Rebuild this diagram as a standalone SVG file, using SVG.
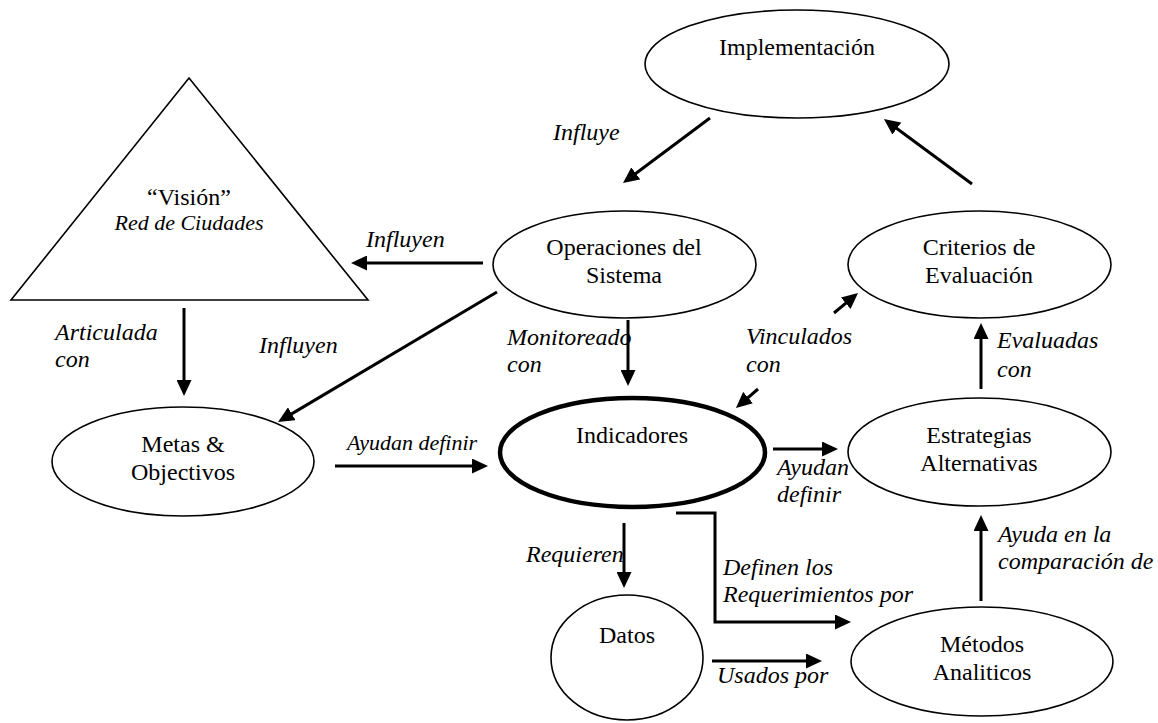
<svg xmlns="http://www.w3.org/2000/svg" width="1158" height="723" viewBox="0 0 1158 723" font-family="Liberation Serif, Times New Roman, serif">
<style>
  .node { fill: #ffffff; stroke: #000000; stroke-width: 1.6; }
  .thick { stroke-width: 4.5; }
  .t { font-size: 24px; fill: #000000; text-anchor: middle; }
  .lbl { font-size: 24px; font-style: italic; fill: #000000; }
  .edge { fill: none; stroke: #000000; stroke-width: 3; marker-end: url(#arr); }
</style>
<defs>
  <marker id="arr" markerUnits="userSpaceOnUse" markerWidth="16" markerHeight="15" refX="8" refY="7.5" orient="auto" viewBox="0 0 16 15">
    <path d="M0,0 L16,7.5 L0,15 z" fill="#000000"/>
  </marker>
</defs>
<rect width="1158" height="723" fill="#ffffff"/>

<g id="connectors">
  <line class="edge" x1="710" y1="118" x2="629.4" y2="178.2"/>
  <line class="edge" x1="972" y1="184" x2="890.4" y2="123.8"/>
  <line class="edge" x1="483" y1="263" x2="359" y2="263"/>
  <line class="edge" x1="497" y1="292" x2="284.9" y2="417.9"/>
  <line class="edge" x1="184" y1="308" x2="184" y2="388"/>
  <line class="edge" x1="628" y1="320" x2="628" y2="378"/>
  <line class="edge" x1="335" y1="466" x2="480" y2="466"/>
  <line class="edge" x1="773" y1="449" x2="830" y2="449"/>
  <line class="edge" x1="834" y1="313" x2="851.9" y2="298.1"/>
  <line class="edge" x1="758" y1="389" x2="742" y2="402.8"/>
  <line class="edge" x1="981" y1="389" x2="981" y2="331"/>
  <line class="edge" x1="624" y1="523" x2="624" y2="580"/>
  <polyline class="edge" points="676,513 715,513 715,622 843,622"/>
  <line class="edge" x1="712" y1="661" x2="814" y2="661"/>
  <line class="edge" x1="981" y1="601" x2="981" y2="523"/>
</g>

<g id="labels" font-family="Liberation Serif, Times New Roman, serif">
  <text class="lbl" x="553" y="140">Influye</text>
  <text class="lbl" x="366" y="247">Influyen</text>
  <text class="lbl" x="55" y="340">Articulada</text>
  <text class="lbl" x="55" y="367">con</text>
  <text class="lbl" x="259" y="353">Influyen</text>
  <text class="lbl" x="507" y="345">Monitoreado</text>
  <text class="lbl" x="507" y="372">con</text>
  <text class="lbl" x="746" y="344">Vinculados</text>
  <text class="lbl" x="746" y="372">con</text>
  <text class="lbl" x="997" y="348">Evaluadas</text>
  <text class="lbl" x="997" y="377">con</text>
  <text class="lbl" x="347" y="450" style="font-size:22px">Ayudan definir</text>
  <text class="lbl" x="777" y="475">Ayudan</text>
  <text class="lbl" x="777" y="502">definir</text>
  <text class="lbl" x="526" y="562">Requieren</text>
  <text class="lbl" x="723" y="575">Definen los</text>
  <text class="lbl" x="723" y="602">Requerimientos por</text>
  <text class="lbl" x="998" y="542">Ayuda en la</text>
  <text class="lbl" x="998" y="569">comparación de</text>
  <text class="lbl" x="717" y="683">Usados por</text>
</g>

<g id="vision">
  <polygon class="node" points="189,78 368,300 11,300"/>
  <text class="t" x="189" y="205">“Visión”</text>
  <text class="t" x="189" y="230" style="font-style:italic;font-size:22px">Red de Ciudades</text>
</g>
<g id="implementacion">
  <ellipse class="node" cx="797" cy="64" rx="152" ry="54"/>
  <text class="t" x="797" y="55">Implementación</text>
</g>
<g id="operaciones">
  <ellipse class="node" cx="624.5" cy="264.5" rx="131.5" ry="53.5"/>
  <text class="t" x="624" y="255">Operaciones del</text>
  <text class="t" x="624" y="283">Sistema</text>
</g>
<g id="criterios">
  <ellipse class="node" cx="979.5" cy="264.5" rx="131.5" ry="53.5"/>
  <text class="t" x="979" y="255">Criterios de</text>
  <text class="t" x="979" y="283">Evaluación</text>
</g>
<g id="metas">
  <ellipse class="node" cx="183" cy="461.5" rx="131" ry="54.5"/>
  <text class="t" x="183" y="452">Metas &amp;</text>
  <text class="t" x="183" y="480">Objectivos</text>
</g>
<g id="indicadores">
  <ellipse class="node thick" cx="632.5" cy="452.5" rx="132.5" ry="54.5"/>
  <text class="t" x="632" y="443">Indicadores</text>
</g>
<g id="estrategias">
  <ellipse class="node" cx="979.5" cy="452" rx="131.5" ry="54"/>
  <text class="t" x="979" y="443">Estrategias</text>
  <text class="t" x="979" y="471">Alternativas</text>
</g>
<g id="datos">
  <ellipse class="node" cx="627" cy="657.5" rx="76" ry="62.5"/>
  <text class="t" x="627" y="643">Datos</text>
</g>
<g id="metodos">
  <ellipse class="node" cx="982" cy="661.5" rx="131" ry="54.5"/>
  <text class="t" x="982" y="652">Métodos</text>
  <text class="t" x="982" y="680">Analiticos</text>
</g>
</svg>
